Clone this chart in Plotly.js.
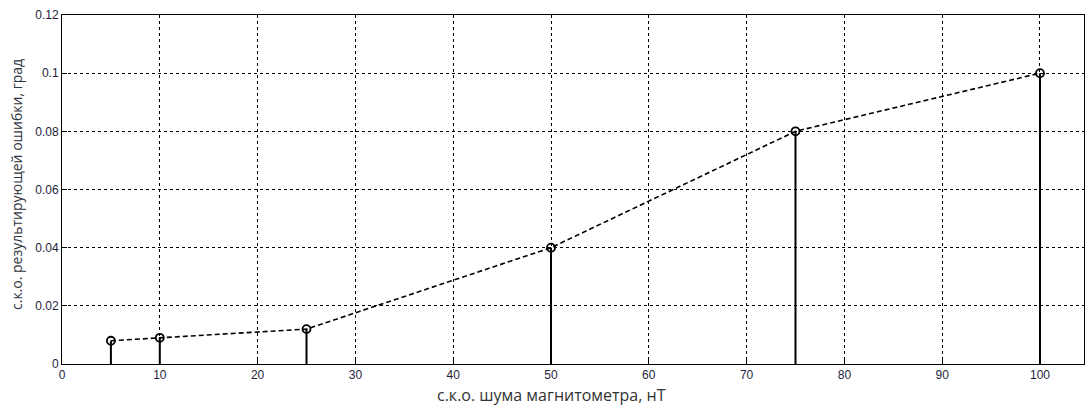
<!DOCTYPE html>
<html><head><meta charset="utf-8">
<script src="https://cdn.plot.ly/plotly-3.0.1.min.js"></script>
<style>html,body{margin:0;padding:0;background:#fff}#chart{width:1085px;height:407px}</style>
</head><body><div id="chart"></div>
<script>
const noise = [5, 10, 25, 50, 75, 100];
const errorSko = [0.008, 0.009, 0.012, 0.04, 0.08, 0.1];
const xTicks = [0, 10, 20, 30, 40, 50, 60, 70, 80, 90, 100];
const yTicks = [0, 0.02, 0.04, 0.06, 0.08, 0.1, 0.12];
const yTickText = ['0', '0.02', '0.04', '0.06', '0.08', '0.1', '0.12'];
const xTitle = 'с.к.о. шума магнитометра, нТ';
const yTitle = 'с.к.о. результирующей ошибки, град';

const stemX = [], stemY = [];
noise.forEach((x, i) => { stemX.push(x, x, null); stemY.push(0, errorSko[i], null); });

const traces = [
  {x: stemX, y: stemY, mode: 'lines', line: {color: '#000', width: 2}, hoverinfo: 'skip', showlegend: false},
  {x: noise, y: errorSko, mode: 'lines+markers', line: {color: '#000', width: 1.6, dash: '5px,3px'},
   marker: {symbol: 'circle-open', size: 8, color: '#000', line: {width: 1.8}}, showlegend: false}
];

const layout = {
  width: 1085, height: 407,
  margin: {l: 62, r: 1, t: 15, b: 43},
  paper_bgcolor: '#fff', plot_bgcolor: '#fff',
  font: {family: 'Liberation Sans, Arial, sans-serif', color: '#222', size: 12},
  xaxis: {
    range: [0, 104.5], tickvals: xTicks, ticks: 'inside', ticklen: 5, tickcolor: '#000',
    showgrid: true, gridcolor: '#000', gridwidth: 1, griddash: '3px,3px',
    showline: true, linecolor: '#000', linewidth: 1, mirror: true, zeroline: false,
    tickfont: {size: 12, color: '#1e1e3c'}
  },
  yaxis: {
    range: [0, 0.12], tickvals: yTicks, ticktext: yTickText, ticks: 'inside', ticklen: 5, tickcolor: '#000',
    showgrid: true, gridcolor: '#000', gridwidth: 1, griddash: '3px,3px',
    showline: true, linecolor: '#000', linewidth: 1, mirror: true, zeroline: false,
    tickfont: {size: 12, color: '#1e1e3c'}
  },
  annotations: [
    {text: xTitle, xref: 'paper', yref: 'paper', x: 0.4785, y: -0.089, xanchor: 'center', yanchor: 'middle',
     showarrow: false, font: {family: 'Open Sans, sans-serif', size: 16, color: '#333'}},
    {text: yTitle, xref: 'paper', yref: 'paper', x: -0.044, y: 0.513, xanchor: 'center', yanchor: 'middle',
     textangle: -90, showarrow: false, font: {family: 'Open Sans, sans-serif', size: 14, color: '#2f3440'}}
  ]
};
Plotly.newPlot('chart', traces, layout, {displayModeBar: false, staticPlot: true});
</script></body></html>
